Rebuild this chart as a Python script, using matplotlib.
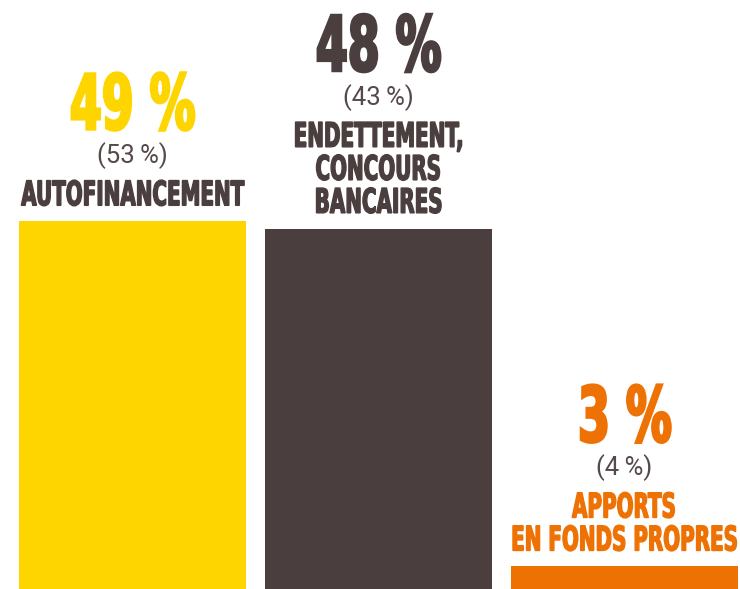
import matplotlib.pyplot as plt
from matplotlib.patheffects import AbstractPathEffect
from matplotlib.transforms import Affine2D

# Data
categories = ['AUTOFINANCEMENT', 'ENDETTEMENT,\nCONCOURS\nBANCAIRES', 'APPORTS\nEN FONDS PROPRES']
shares = [49, 48, 3]
previous = [53, 43, 4]
bar_colors = ['#FFD500', '#4A3E3E', '#EE7203']
label_colors = ['#4A3E3E', '#4A3E3E', '#EE7203']


# the original uses a condensed display face: squeeze DejaVu Bold horizontally
class Squeeze(AbstractPathEffect):
    def __init__(self, sx, lw=0.0):
        super().__init__()
        self.sx = sx
        self.lw = lw

    def draw_path(self, renderer, gc, tpath, affine, rgbFace=None):
        ext = tpath.get_extents()
        cx = (ext.x0 + ext.x1) / 2
        t = Affine2D().translate(-cx, 0).scale(self.sx, 1).translate(cx, 0) + affine
        gc0 = renderer.new_gc()
        gc0.copy_properties(gc)
        if self.lw and rgbFace is not None:
            gc0.set_linewidth(self.lw)
            gc0.set_foreground(rgbFace)
            gc0.set_joinstyle('miter')
        renderer.draw_path(gc0, tpath, t, rgbFace)
        gc0.restore()


fig = plt.figure(figsize=(7.4, 5.89), dpi=100)
ax = fig.add_axes([0, 0, 1, 1])

x = range(len(shares))
ax.bar(x, shares, width=0.923, color=bar_colors)
ax.set_xlim(-0.539, 2.47)
ax.set_ylim(0, 78.5)
ax.axis('off')

for i, (val, prev, lab) in enumerate(zip(shares, previous, categories)):
    lines = lab.split('\n')
    off = 16
    for line in reversed(lines):
        ax.annotate(line, (i, val), xytext=(0, off), textcoords='offset pixels',
                    ha='center', va='baseline', fontsize=24.5, fontweight='bold',
                    family='DejaVu Sans', color=label_colors[i],
                    path_effects=[Squeeze(0.585, 1.0)])
        off += 33
    off += 9
    ax.annotate(f'({prev}\u2009%)', (i, val), xytext=(0, off), textcoords='offset pixels',
                ha='center', va='baseline', fontsize=18.5, fontweight='normal',
                family=['Roboto', 'DejaVu Sans'], color='#554949')
    off += 34
    ax.annotate(f'{val} %', (i, val), xytext=(0, off), textcoords='offset pixels',
                ha='center', va='baseline', fontsize=55, fontweight='bold',
                family='DejaVu Sans', color=bar_colors[i],
                path_effects=[Squeeze(0.6, 2.0)])

plt.savefig('out.png', dpi=100)
